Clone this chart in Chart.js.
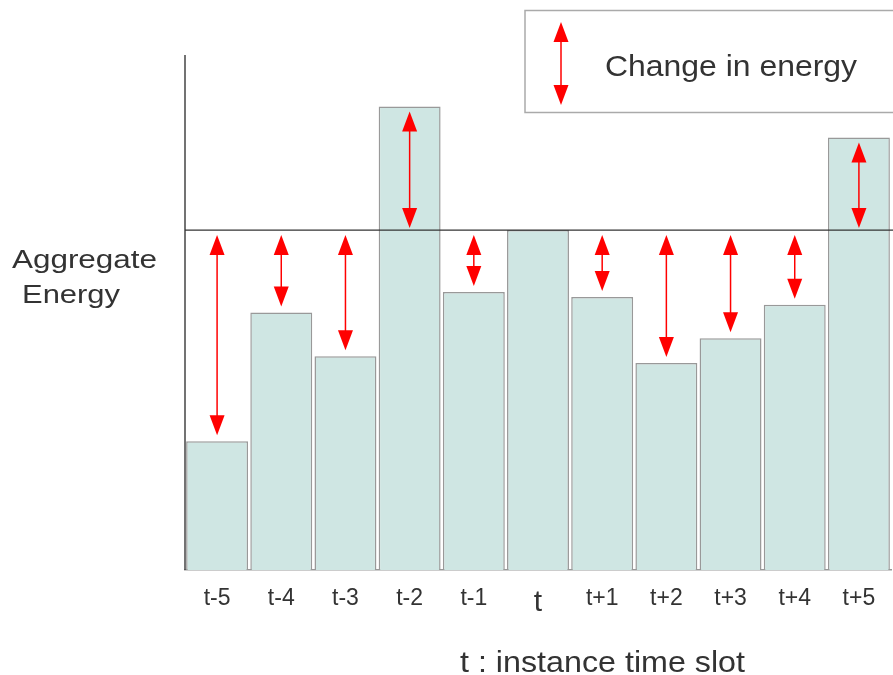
<!DOCTYPE html>
<html>
<head>
<meta charset="utf-8">
<script src="https://cdn.jsdelivr.net/npm/chart.js@4"></script>
<style>
  html, body { margin: 0; padding: 0; background: #fff; }
  #wrap { width: 893px; height: 675px; position: relative; }
</style>
</head>
<body>
<div id="wrap"><canvas id="energyChart"></canvas></div>
<script>
// time slots around the current instance t
var slots = ['t-5', 't-4', 't-3', 't-2', 't-1', 't', 't+1', 't+2', 't+3', 't+4', 't+5'];
// aggregate energy per slot (relative units, axis 0-100)
var energy = [25, 50, 41.5, 90, 54, 66, 53, 40.2, 45, 51.5, 84];
// the reference level is the energy of slot t
var refIndex = 5;

var FONT = '"Liberation Sans", Arial, sans-serif';

function drawArrow(c, x, y1, y2) {
    // double headed vertical arrow between y1 (top) and y2 (bottom)
    var head = 20, half = 7.5;
    c.save();
    c.strokeStyle = '#ff0000';
    c.fillStyle = '#ff0000';
    c.lineWidth = 1.5;
    c.beginPath();
    c.moveTo(x, y1 + head - 2);
    c.lineTo(x, y2 - head + 2);
    c.stroke();
    c.beginPath();
    c.moveTo(x, y1);
    c.lineTo(x - half, y1 + head);
    c.lineTo(x + half, y1 + head);
    c.closePath();
    c.fill();
    c.beginPath();
    c.moveTo(x, y2);
    c.lineTo(x - half, y2 - head);
    c.lineTo(x + half, y2 - head);
    c.closePath();
    c.fill();
    c.restore();
}

// text drawn slightly stretched sideways, like the original slide
function wideText(c, text, x, y, size, width) {
    c.save();
    c.font = size + 'px ' + FONT;
    c.fillStyle = '#333';
    c.textBaseline = 'alphabetic';
    var w = c.measureText(text).width;
    c.translate(x, y);
    c.scale(width / w, 1);
    c.fillText(text, 0, 0);
    c.restore();
}

var extras = {
    id: 'extras',
    afterDatasetsDraw: function(chart) {
        var c = chart.ctx;
        var area = chart.chartArea;
        var yS = chart.scales.y;
        var meta = chart.getDatasetMeta(0);
        var refY = yS.getPixelForValue(energy[refIndex]);

        // y axis line
        c.save();
        c.strokeStyle = '#444';
        c.lineWidth = 1.5;
        c.beginPath();
        c.moveTo(area.left, area.top);
        c.lineTo(area.left, area.bottom);
        c.stroke();

        // reference level line
        c.strokeStyle = '#333';
        c.lineWidth = 1.2;
        c.beginPath();
        c.moveTo(area.left, refY);
        c.lineTo(chart.width, refY);
        c.stroke();
        c.restore();

        // change arrows
        energy.forEach(function(v, i) {
            if (i === refIndex) return;
            var x = meta.data[i].x;
            var barY = yS.getPixelForValue(v);
            if (barY > refY) {
                drawArrow(c, x, refY + 5, barY - 6);
            } else {
                drawArrow(c, x, barY + 5, refY - 2);
            }
        });

        // legend box
        c.save();
        c.strokeStyle = '#aaa';
        c.lineWidth = 1.5;
        c.strokeRect(525, 10.5, 380, 102);
        c.restore();
        drawArrow(c, 561, 22, 105);

        wideText(c, 'Change in energy', 605, 76, 30, 252);
        wideText(c, 'Aggregate', 12, 268, 26, 145);
        wideText(c, 'Energy', 22, 303, 26, 98);
        wideText(c, 't : instance time slot', 460, 672, 29, 285);
    }
};

var ctx = document.getElementById('energyChart').getContext('2d');
var energyChart = new Chart(ctx, {
    type: 'bar',
    data: {
        labels: slots,
        datasets: [{
            label: 'Aggregate Energy',
            data: energy,
            backgroundColor: '#cfe6e3',
            borderColor: '#999',
            borderWidth: 1.5,
            barPercentage: 0.965,
            categoryPercentage: 1
        }]
    },
    options: {
        responsive: true,
        maintainAspectRatio: false,
        animation: false,
        layout: { padding: { left: 185, right: 2, top: 55, bottom: 0 } },
        plugins: {
            legend: { display: false },
            tooltip: { enabled: false }
        },
        scales: {
            x: {
                grid: { display: false },
                border: { display: true, color: '#999', width: 1.5 },
                ticks: {
                    color: '#333',
                    padding: 7,
                    maxRotation: 0,
                    font: function(c) {
                        return c.index === refIndex
                            ? { family: FONT, size: 30 }
                            : { family: FONT, size: 23 };
                    }
                },
                afterFit: function(scale) { scale.height = 105; }
            },
            y: {
                display: false,
                min: 0,
                max: 100
            }
        }
    },
    plugins: [extras]
});
</script>
</body>
</html>
